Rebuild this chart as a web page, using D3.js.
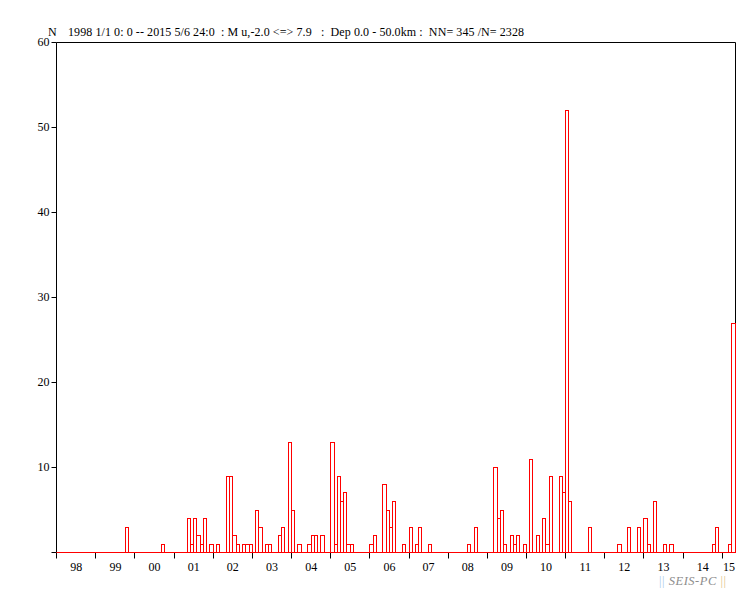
<!DOCTYPE html>
<html><head><meta charset="utf-8">
<script src="https://cdn.jsdelivr.net/npm/d3@7"></script>
<style>
body{margin:0;background:#fff}
svg{display:block}
text{font-family:"Liberation Serif","Times New Roman",serif;}
</style>
</head><body><div id="chart"></div>
<script>
// ---- data (monthly counts) ----
const binMonths = ["1999-10","2000-09","2001-05","2001-06","2001-07","2001-08","2001-09","2001-10","2001-12",
"2002-02","2002-05","2002-06","2002-07","2002-08","2002-10","2002-11","2002-12","2003-02","2003-03","2003-05",
"2003-06","2003-09","2003-10","2003-12","2004-01","2004-03","2004-06","2004-07","2004-08","2004-10","2005-01",
"2005-02","2005-03","2005-04","2005-05","2005-06","2005-07","2006-01","2006-02","2006-05","2006-06","2006-07",
"2006-08","2006-11","2007-01","2007-03","2007-04","2007-07","2008-07","2008-09","2009-03","2009-04","2009-05",
"2009-06","2009-08","2009-09","2009-10","2009-12","2010-02","2010-04","2010-06","2010-07","2010-08","2010-11",
"2010-12","2011-01","2011-02","2011-08","2012-05","2012-08","2012-11","2013-01","2013-02","2013-04","2013-07",
"2013-09","2014-10","2014-11","2015-03","2015-04"];
const counts = [3,1,4,1,4,2,1,4,1,
1,9,9,2,1,1,1,1,5,3,1,
1,2,3,13,5,1,1,2,2,2,13,
1,9,6,7,1,1,1,2,8,5,3,
6,1,3,1,3,1,1,3,10,4,5,
1,2,1,2,1,11,2,4,1,9,9,
7,52,6,3,1,3,3,4,1,6,1,
1,1,3,1,27];
const yTickValues = [0,10,20,30,40,50,60];
const yTickLabels = ["","10","20","30","40","50","60"];
const yearLabels = ["98","99","00","01","02","03","04","05","06","07","08","09","10","11","12","13","14","15"];
const titleN = "N";
const titleText = "1998 1/1 0: 0 -- 2015 5/6 24:0  : M u,-2.0 <=> 7.9   :  Dep 0.0 - 50.0km :  NN= 345 /N= 2328";
const startDate = new Date(Date.UTC(1998,0,1));
const endDate = new Date(Date.UTC(2015,4,7));

// ---- drawing ----
(function(){
const W = 751, H = 593;
const svg = d3.select("#chart").append("svg").attr("width", W).attr("height", H);
const x = d3.scaleUtc().domain([startDate, endDate]).range([56.7, 735.7]);
const y = d3.scaleLinear().domain([0, 60]).range([552, 42]);
const cx = v => Math.floor(v) + 0.5;
const cy = v => Math.round(v) + 0.5;
const parseM = d3.utcParse("%Y-%m");

const pLeft = cx(x(startDate)), pRight = cx(x(endDate)), pTop = cy(y(60)), pBase = cy(y(0));

// frame
svg.append("path")
  .attr("d", `M${pLeft},${pBase}V${pTop}H${pRight}V${pBase}`)
  .attr("fill", "none").attr("stroke", "#000").attr("stroke-width", 1);

// y ticks
const yg = svg.append("g");
yTickValues.forEach((v, i) => {
  yg.append("line").attr("x1", pLeft - 5).attr("x2", pLeft).attr("y1", cy(y(v))).attr("y2", cy(y(v)))
    .attr("stroke", "#000");
  if (yTickLabels[i]) yg.append("text").attr("x", pLeft - 7).attr("y", y(v) + 4)
    .attr("text-anchor", "end").attr("font-size", 12).attr("fill", "#000").text(yTickLabels[i]);
});

// x ticks (years)
const years = d3.utcYear.range(startDate, endDate);
const xg = svg.append("g");
years.forEach((d, i) => {
  const xv = cx(x(d));
  xg.append("line").attr("x1", xv).attr("x2", xv).attr("y1", pBase).attr("y2", pBase + 6).attr("stroke", "#000");
  const next = d3.utcYear.offset(d, 1);
  const mid = (x(d) + Math.min(x(next), x(endDate))) / 2;
  xg.append("text").attr("x", mid).attr("y", 571).attr("text-anchor", "middle")
    .attr("font-size", 12).attr("fill", "#000").text(yearLabels[i]);
});

// bars
const bars = binMonths.map((m, i) => ({ d: parseM(m), v: counts[i] }));
svg.append("g").selectAll("rect").data(bars).join("rect")
  .attr("x", b => cx(x(b.d)))
  .attr("width", b => cx(x(d3.utcMonth.offset(b.d, 1))) - cx(x(b.d)))
  .attr("y", b => cy(y(b.v)))
  .attr("height", b => pBase - cy(y(b.v)))
  .attr("fill", "none").attr("stroke", "#ff0000").attr("stroke-width", 1);

// red baseline
svg.append("line").attr("x1", pLeft).attr("x2", pRight).attr("y1", pBase).attr("y2", pBase)
  .attr("stroke", "#ff0000");

// title
svg.append("text").attr("x", 48).attr("y", 36).attr("font-size", 12).attr("fill", "#000").text(titleN);
svg.append("text").attr("x", 68).attr("y", 36).attr("font-size", 12).attr("fill", "#000")
  .attr("textLength", 456).attr("lengthAdjust", "spacing")
  .style("white-space", "pre").text(titleText);

// footer mark
const ft = svg.append("text").attr("x", 659).attr("y", 585).attr("font-size", 12.5)
  .attr("textLength", 67).attr("lengthAdjust", "spacing").style("white-space", "pre");
ft.append("tspan").attr("fill", "#a9c9ee").text("||");
ft.append("tspan").attr("fill", "#8c8c8c").attr("font-style", "italic").text(" SEIS-PC ");
ft.append("tspan").attr("fill", "#e5c48a").text("||");
})();
</script>
</body></html>
